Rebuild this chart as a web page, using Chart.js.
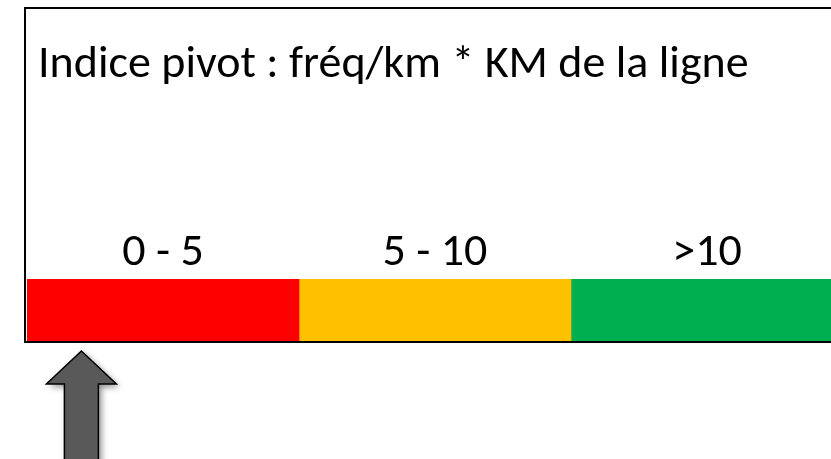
<!DOCTYPE html>
<html>
<head>
<meta charset="utf-8">
<script src="https://cdn.jsdelivr.net/npm/chart.js@4/dist/chart.umd.min.js"></script>
<style>
  html, body { margin: 0; padding: 0; background: #fff; overflow: hidden; width: 831px; height: 459px; }
  #wrap { position: relative; width: 860px; height: 459px; }
</style>
</head>
<body>
<div id="wrap"><canvas id="pivot" width="860" height="459"></canvas></div>
<script>
  /* data */
  const TITLE = "Indice pivot : fréq/km * KM de la ligne";
  const RANGES = ["0 - 5", "5 - 10", ">10"];
  const WIDTHS = [5, 5, 5];          // each class drawn at equal width
  const COLORS = ["#FF0000", "#FFC000", "#00B050"];
  const ARROW_VALUE = 1;             // where the grey arrow points

  const FONT = 'Calibri, Carlito, "Noto Sans", sans-serif';

  /* frame, title, class labels and arrow */
  const decor = {
    id: "decor",
    beforeDraw(chart) {
      const ctx = chart.ctx;
      ctx.save();
      ctx.strokeStyle = "#000";
      ctx.lineWidth = 2;
      ctx.strokeRect(25, 8, 900, 334);
      ctx.fillStyle = "#000";
      ctx.font = "46px " + FONT;
      ctx.textBaseline = "alphabetic";
      ctx.textAlign = "left";
      ctx.fillText(TITLE, 38, 77);
      ctx.restore();
    },
    afterDatasetsDraw(chart) {
      const ctx = chart.ctx;
      const area = chart.chartArea;
      ctx.save();
      ctx.fillStyle = "#000";
      ctx.font = "46px " + FONT;
      ctx.textAlign = "center";
      ctx.textBaseline = "alphabetic";
      chart.data.datasets.forEach((ds, i) => {
        const bar = chart.getDatasetMeta(i).data[0];
        ctx.fillText(ds.label, (bar.x + bar.base) / 2, area.top - 14);
      });

      // arrow pointing up at ARROW_VALUE
      const cx = chart.scales.x.getPixelForValue(ARROW_VALUE);
      const tip = area.bottom + 10;
      ctx.beginPath();
      ctx.moveTo(cx, tip);
      ctx.lineTo(cx + 35, tip + 33);
      ctx.lineTo(cx + 17, tip + 33);
      ctx.lineTo(cx + 17, 470);
      ctx.lineTo(cx - 17, 470);
      ctx.lineTo(cx - 17, tip + 33);
      ctx.lineTo(cx - 35, tip + 33);
      ctx.closePath();
      ctx.shadowColor = "rgba(0,0,0,0.45)";
      ctx.shadowBlur = 6;
      ctx.shadowOffsetX = 3;
      ctx.shadowOffsetY = 3;
      ctx.fillStyle = "#595959";
      ctx.fill();
      ctx.shadowColor = "transparent";
      ctx.lineWidth = 1.5;
      ctx.strokeStyle = "#000";
      ctx.stroke();
      ctx.restore();
    }
  };

  new Chart(document.getElementById("pivot"), {
    type: "bar",
    data: {
      labels: ["indice"],
      datasets: RANGES.map((r, i) => ({
        label: r,
        data: [WIDTHS[i]],
        backgroundColor: COLORS[i],
        borderWidth: 0,
        barPercentage: 1,
        categoryPercentage: 1
      }))
    },
    options: {
      indexAxis: "y",
      responsive: false,
      animation: false,
      devicePixelRatio: 1,
      layout: { padding: { left: 27, right: 17, top: 279, bottom: 118 } },
      plugins: { legend: { display: false }, tooltip: { enabled: false }, title: { display: false } },
      scales: {
        x: { stacked: true, min: 0, max: 15, display: false },
        y: { stacked: true, display: false }
      }
    },
    plugins: [decor]
  });
</script>
</body>
</html>
